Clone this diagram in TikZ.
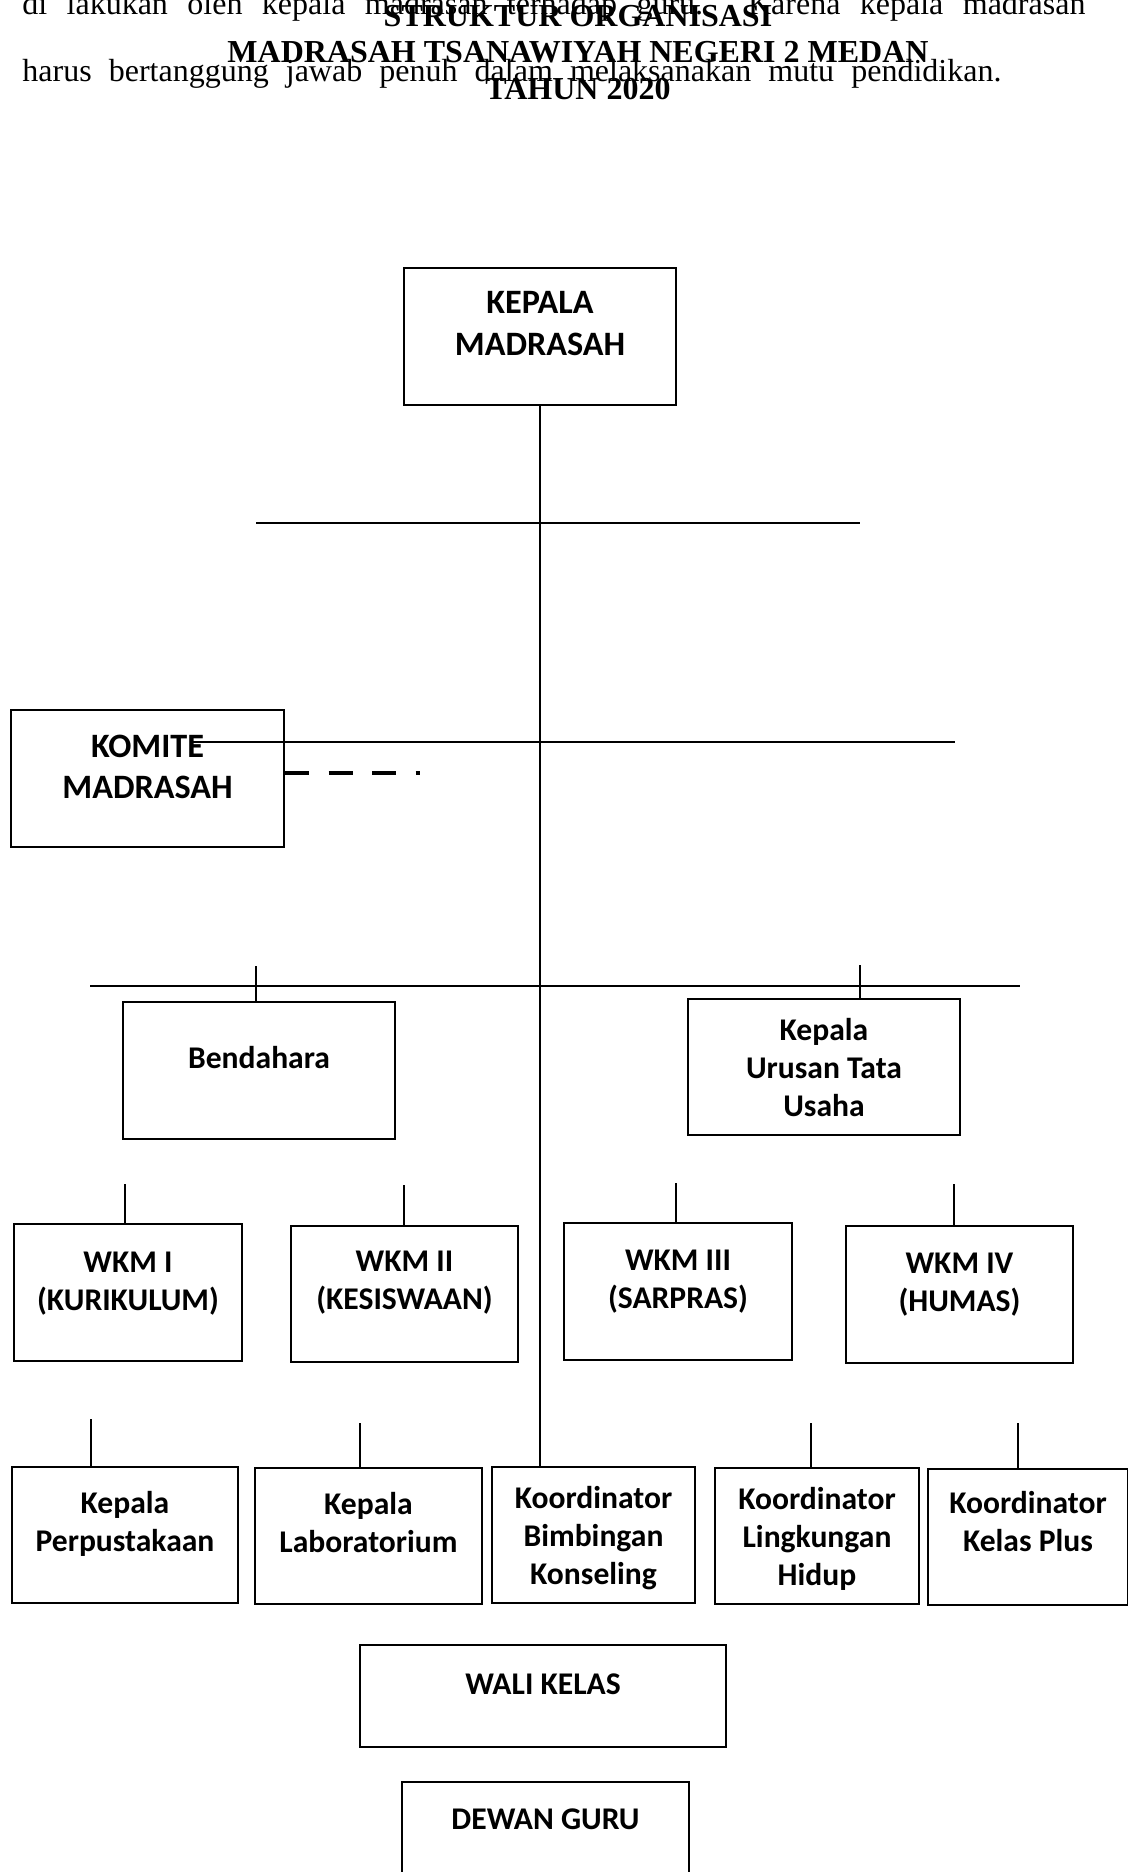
\documentclass[tikz,border=0pt]{standalone}
\usepackage{fontspec}
\setmainfont{Liberation Serif}
\newfontfamily\carlito{Carlito}
\usepackage{tikz}
\usetikzlibrary{calc}

\newdimen\pxu
\pxu=0.5pt
\newcommand{\bodyfont}{\fontsize{16}{19}\selectfont}
\newcommand{\titlefont}{\bfseries\fontsize{16}{19}\selectfont}
\newcommand{\unitfont}{\carlito\bfseries\fontsize{15.8}{19}\selectfont}
\newcommand{\bigunitfont}{\carlito\bfseries\fontsize{17.1}{20.75}\selectfont}
% width, height, first baseline (all in px), text
\newcommand{\boxtext}[4]{\parbox[c][#2\pxu][t]{#1\pxu}{\centering\rule{0pt}{#3\pxu}#4\par}}

\tikzset{
  unit/.style={draw, line width=1pt, inner sep=0pt, anchor=north west, font=\unitfont},
  bigunit/.style={unit, font=\bigunitfont},
  bar/.style={line width=1.3pt},
  tick/.style={line width=1pt},
  dashline/.style={line width=1.6pt, dash pattern=on 12pt off 9.75pt}
}

\begin{document}
\begin{tikzpicture}[x=0.5pt, y=-0.5pt]
  \useasboundingbox (0,0) rectangle (1128,1872);

  % text of the page
  \node[anchor=base west, inner sep=0pt, font=\bodyfont] (teks1) at (22,15)
    {\makebox[1063\pxu][s]{di lakukan oleh kepala madrasan terhadap guru. Karena kepala madrasan}};
  \node[anchor=base west, inner sep=0pt, font=\bodyfont] (teks2) at (22,82)
    {\makebox[979\pxu][s]{harus bertanggung jawab penuh dalam melaksanakan mutu pendidikan.}};

  % title
  \node[anchor=base, font=\titlefont] (judul) at (578,27) {STRUKTUR ORGANISASI};
  \node[anchor=base, font=\titlefont] (sekolah) at (578,63) {MADRASAH TSANAWIYAH NEGERI 2 MEDAN};
  \node[anchor=base, font=\titlefont] (tahun) at (578,100) {TAHUN 2020};

  % boxes
  \node[bigunit] (kepala) at (403,267) {\boxtext{272}{137}{46}{KEPALA\\MADRASAH}};
  \node[bigunit] (komite) at (10,709) {\boxtext{273}{137}{47}{KOMITE\\MADRASAH}};

  \node[unit] (bend) at (122,1001) {\boxtext{272}{137}{66}{Bendahara}};
  \node[unit] (kutu) at (687,998) {\boxtext{272}{136}{41}{Kepala\\Urusan Tata\\Usaha}};

  \node[unit] (wkm1) at (13,1223) {\boxtext{228}{137}{48}{WKM I\\(KURIKULUM)}};
  \node[unit] (wkm2) at (290,1225) {\boxtext{227}{136}{45}{WKM II\\(KESISWAAN)}};
  \node[unit] (wkm3) at (563,1222) {\boxtext{228}{137}{47}{WKM III\\(SARPRAS)}};
  \node[unit] (wkm4) at (845,1225) {\boxtext{227}{137}{47}{WKM IV\\(HUMAS)}};

  \node[unit] (perpus) at (11,1466) {\boxtext{226}{136}{46}{Kepala\\Perpustakaan}};
  \node[unit] (lab) at (254,1467) {\boxtext{227}{136}{46}{Kepala\\Laboratorium}};
  \node[unit] (bk) at (491,1466) {\boxtext{203}{136}{41}{Koordinator\\Bimbingan\\Konseling}};
  \node[unit] (lh) at (714,1467) {\boxtext{204}{136}{41}{Koordinator\\Lingkungan\\Hidup}};
  \node[unit] (kplus) at (927,1468) {\boxtext{200}{136}{44}{Koordinator\\Kelas Plus}};

  \node[unit] (wali) at (359,1644) {\boxtext{366}{102}{49}{WALI KELAS}};
  \node[unit] (dewan) at (401,1781) {\boxtext{287}{110}{47}{DEWAN GURU}};

  % main line
  \draw[tick] (kepala.south) -- (kepala.south |- bk.north);

  % cross bars
  \coordinate (bar1w) at (256,523);
  \coordinate (bar1e) at (860,523);
  \coordinate (bar2w) at (191,742);
  \coordinate (bar2e) at (955,742);
  \coordinate (bar3w) at (90,986);
  \coordinate (bar3e) at (1020,986);
  \draw[bar] (bar1w) -- (bar1e);
  \draw[bar] (bar2w) -- (bar2e);
  \draw[bar] (bar3w) -- (bar3e);

  % komite
  \coordinate (dashend) at (420,773);
  \draw[dashline] (komite.east |- dashend) -- (dashend);

  % ticks
  \draw[tick] (bend.north -| bar1w) -- ++(0,-35);
  \draw[tick] (kutu.north -| bar1e) -- ++(0,-33);
  \foreach \n/\x/\y in {wkm1/125/1184, wkm2/404/1185, wkm3/676/1183, wkm4/954/1184,
                       perpus/91/1419, lab/360/1423, lh/811/1423, kplus/1018/1423} {
    \coordinate (t-\n) at (\x,\y);
    \draw[tick] (t-\n) -- (t-\n |- \n.north);
  }

\end{tikzpicture}
\end{document}
